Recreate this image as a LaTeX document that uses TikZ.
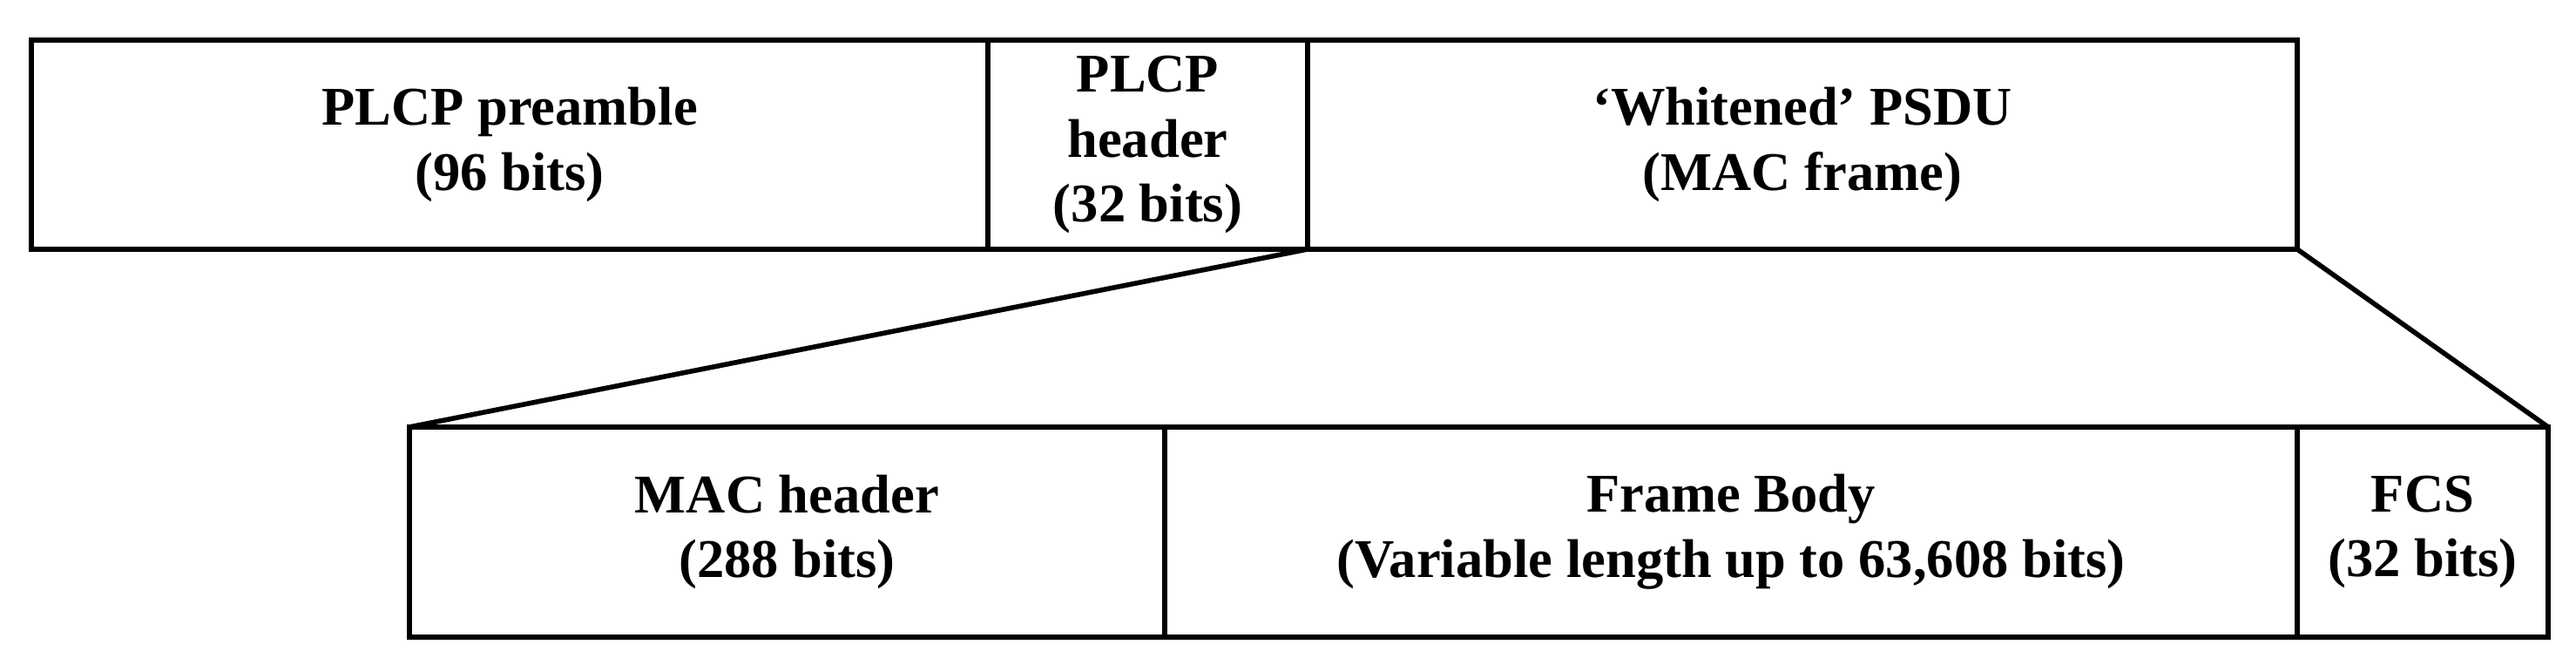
\documentclass[tikz,border=0pt]{standalone}
\usepackage{fontspec}
\setmainfont{Liberation Serif}
\begin{document}
\begin{tikzpicture}[
  field/.style={draw=black, line width=1.9pt, rectangle, inner sep=0pt, outer sep=0pt,
    align=center, font=\fontsize{17.8}{21.3}\selectfont\bfseries},
  zoomline/.style={draw=black, line width=1.6pt}
]
\useasboundingbox[fill=white] (0,0) rectangle (29.57,7.63);
% top row
\node[field, minimum width=10.98cm, minimum height=2.40cm] (pre) at (5.85,5.97) {PLCP preamble\\(96 bits)};
\node[field, minimum width=3.67cm, minimum height=2.40cm] (hdr) at (13.175,5.97) {PLCP\\header\\(32 bits)};
\node[field, minimum width=11.36cm, minimum height=2.40cm] (psdu) at (20.69,5.97) {‘Whitened’ PSDU\\(MAC frame)};
% bottom row
\node[field, minimum width=8.67cm, minimum height=2.41cm] (mac) at (9.035,1.525) {MAC header\\(288 bits)};
\node[field, minimum width=13.0cm, minimum height=2.41cm] (body) at (19.87,1.525) {Frame Body\\(Variable length up to 63,608 bits)};
\node[field, minimum width=2.88cm, minimum height=2.41cm] (fcs) at (27.81,1.525) {FCS\\(32 bits)};
% zoom lines
\draw[zoomline] (hdr.south east) -- (mac.north west);
\draw[zoomline] (psdu.south east) -- (fcs.north east);
\end{tikzpicture}
\end{document}
